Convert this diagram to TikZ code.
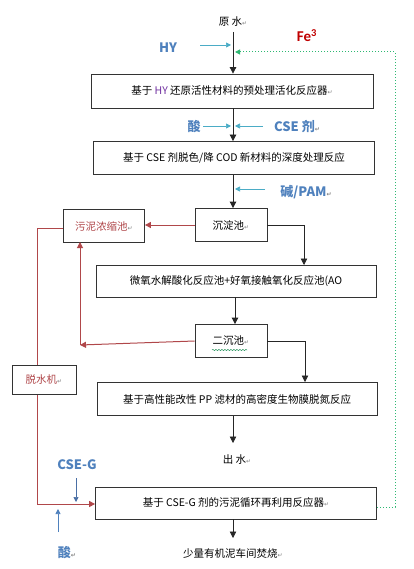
\documentclass[tikz,border=0pt]{standalone}
\usepackage{fontspec}
\setmainfont{Carlito}
\newfontfamily\cjk{Noto Sans CJK SC}
\newfontfamily\symfont{DejaVu Sans}
\usepackage{xcolor}
\usetikzlibrary{arrows.meta,decorations.pathmorphing}

\definecolor{labelblue}{HTML}{4F81BD}
\definecolor{arrowcyan}{HTML}{4BACC6}
\definecolor{arrowblue}{HTML}{4A6FA5}
\definecolor{sludgered}{HTML}{B0474A}
\definecolor{fered}{HTML}{C00000}
\definecolor{dotgreen}{HTML}{2EB872}
\definecolor{hypurple}{HTML}{7030A0}

\newcommand{\pmk}{{\symfont\fontsize{6}{6}\selectfont\color{gray}↵}}

\begin{document}
\begin{tikzpicture}[
    x=1pt, y=-1pt,
    box/.style={draw=black!80, line width=0.8pt, fill=white, inner sep=2pt,
        font=\cjk\fontsize{10.5}{12}\selectfont},
    tag/.style={inner sep=1pt, font=\cjk\fontsize{10.5}{12}\selectfont},
    chem/.style={inner sep=1pt, text=labelblue, font=\cjk\bfseries\fontsize{13}{14}\selectfont},
    flow/.style={draw=black!85, line width=0.8pt, -{Triangle[length=6.5pt,width=6.5pt]}},
    sludge/.style={draw=sludgered, line width=1pt, -{Triangle[length=6pt,width=6pt]}},
    dose/.style={line width=0.7pt, -{Triangle[length=5pt,width=5pt]}}
]
    \useasboundingbox (0,0) rectangle (414,569);

    % Raw water and dosing at the inlet
    \node[tag] (raw) at (233,22) {原 水\pmk};
    \node[chem] (hy) at (168,48) {HY};
    \node[inner sep=1pt, text=fered, font=\bfseries\fontsize{15}{16}\selectfont] (fe) at (307,36) {Fe\textsuperscript{3}};
    \coordinate (hytip) at (231,45);
    \coordinate (hytail) at (200,45);
    \coordinate (fetip) at (235,52);

    % Main treatment line
    \node[box, minimum width=282pt, minimum height=34pt] (pre) at (232,91)
        {基于 \textcolor{hypurple}{HY} 还原活性材料的预处理活化反应器\pmk};
    \node[box, minimum width=281pt, minimum height=33pt] (deep) at (234,158)
        {基于 CSE 剂脱色/降 COD 新材料的深度处理反应};
    \node[box, minimum width=72pt, minimum height=33pt] (sed) at (231,225) {沉淀池\pmk};
    \node[box, minimum width=81pt, minimum height=33pt, text=sludgered] (thick) at (104,226) {污泥浓缩池\pmk};
    \node[box, minimum width=280pt, minimum height=32pt] (ao) at (236,281)
        {微氧水解酸化反应池+好氧接触氧化反应池(AO};
    \node[box, minimum width=72pt, minimum height=33pt] (sec) at (231,341) {二沉池\pmk};
    \node[box, minimum width=280pt, minimum height=33pt] (pp) at (237,399)
        {基于高性能改性 PP 滤材的高密度生物膜脱氮反应};
    \node[tag] (out) at (237,460) {出 水\pmk};
    \node[box, minimum width=281pt, minimum height=32pt] (recyc) at (236,503)
        {基于 CSE-G 剂的污泥循环再利用反应器\pmk};
    \node[tag] (burn) at (233,553) {少量有机泥车间焚烧\pmk};
    \node[box, minimum width=64pt, minimum height=29pt, text=sludgered] (dew) at (44,380) {脱水机\pmk};

    % Dosing labels
    \node[chem] (acid1) at (194,127) {酸};
    \node[chem] (cse) at (297,127) {CSE 剂\pmk};
    \node[chem] (alk) at (306,192) {碱/PAM\pmk};
    \node[chem] (cseg) at (77,465) {CSE-G};
    \node[chem] (acid2) at (67,553) {酸\pmk};

    % Helper coordinates
    \coordinate (a1) at (304,225);
    \coordinate (a2) at (304,265);
    \coordinate (b1) at (305,341);
    \coordinate (b2) at (305,382);
    \coordinate (r1) at (37,228);
    \coordinate (r2) at (37,504);
    \coordinate (s1) at (80,345);
    \coordinate (s2) at (80,242);
    \coordinate (g1) at (395,507);
    \coordinate (g2) at (395,52);

    % Water flow
    \draw[flow] (233,32) -- (pre.north -| 233,0);
    \draw[flow] (pre.south -| 233,0) -- (deep.north -| 233,0);
    \draw[flow] (deep.south -| 233,0) -- (sed.north -| 233,0);
    \draw[flow, -] (sed.east) -- (a1);
    \draw[flow] (a1) -- (a2);
    \draw[flow] (ao.south -| 235,0) -- (sec.north -| 235,0);
    \draw[flow, -] (sec.east) -- (b1);
    \draw[flow] (b1) -- (b2);
    \draw[flow] (pp.south -| 233,0) -- (233,443);
    \draw[flow] (recyc.south -| 233,0) -- (233,538);

    % Chemical dosing arrows
    \draw[dose, arrowcyan] (hytail) -- (hytip);
    \draw[dose, arrowcyan] (203,126) -- (231,126);
    \draw[dose, arrowcyan] (263,126) -- (235,126);
    \draw[dose, arrowcyan] (265,189) -- (235,189);
    \draw[dose, arrowblue] (76,478) -- (76,502);
    \draw[dose, labelblue] (58,532) -- (58,509);

    % Sludge lines
    \draw[sludge] (sed.west) -- (thick.east |- sed.west);
    \draw[sludge] (sec.west) -- (s1);
    \draw[sludge] (s1) -- (s2);
    \draw[sludge, -] (thick.west |- r1) -- (r1) -- (dew.north -| r1);
    \draw[sludge] (dew.south -| r1) -- (r2) -- (recyc.west |- r2);

    % Fe recycle line
    \draw[dotgreen, line width=1pt, dotted, -{Triangle[length=5pt,width=5pt]}]
        (recyc.east |- g1) -- (g1) -- (g2) -- (fetip);

    % Spell-check squiggle under 二沉池
    \draw[dotgreen!80!black, line width=0.5pt, decorate,
        decoration={snake, amplitude=0.6pt, segment length=3pt}]
        (212,350) -- (247,350);
\end{tikzpicture}
\end{document}
